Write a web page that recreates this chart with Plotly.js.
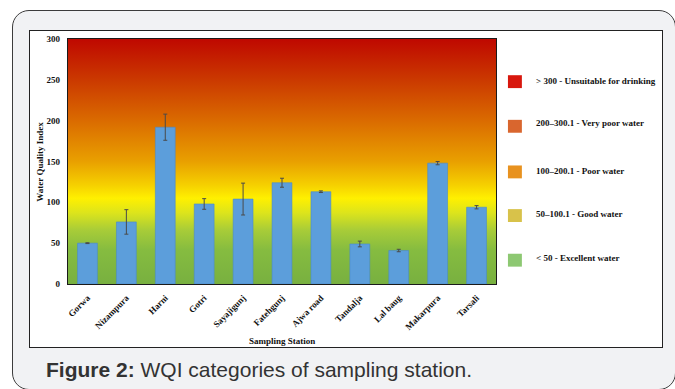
<!DOCTYPE html>
<html>
<head>
<meta charset="utf-8">
<script src="https://cdn.plot.ly/plotly-3.0.1.min.js"></script>
<style>
  html, body { margin: 0; padding: 0; width: 675px; height: 389px; overflow: hidden; background: #ffffff; }
  #frame { position: absolute; left: 12px; top: 10px; width: 664px; height: 380px; box-sizing: border-box;
           border: 1.5px solid #3c3c3c; border-radius: 17px; background: #f1f2f4; }
  #chart { position: absolute; left: 29px; top: 30px; width: 634px; height: 318px; box-sizing: border-box;
           border: 1px solid #222; background: #ffffff; }
  #caption { position: absolute; left: 46px; top: 358px; font-family: "Liberation Sans", Arial, sans-serif;
             font-size: 21px; line-height: 24px; color: #333333; white-space: nowrap; }
</style>
</head>
<body>
<div id="frame"></div>
<div id="chart"></div>
<div id="caption"><b>Figure 2:</b> WQI categories of sampling station.</div>
<script>
// ---- data ----
const stations = ['Gorwa', 'Nizampura', 'Harni', 'Gotri', 'Sayajigunj', 'Fatehgunj', 'Ajwa road', 'Tandalja', 'Lal baug', 'Makarpura', 'Tarsali'];
const wqi = [50, 76, 192, 98, 104, 124, 113, 49, 41, 148, 94];
const wqiErr = [0.5, 15, 16, 6.5, 19.5, 5.5, 1, 3.5, 1.5, 2, 2];
const yTicks = [0, 50, 100, 150, 200, 250, 300];
const categoryLabels = ['> 300 - Unsuitable for drinking', '200\u2013300.1 - Very poor water', '100\u2013200.1 - Poor water', '50\u2013100.1 - Good water', '< 50 - Excellent water'];
const categoryColors = ['#d8170d', '#d9662e', '#e8921f', '#d8c24a', '#8dc872'];

// ---- layout geometry (pixels inside the chart div) ----
const W = 634, H = 318;
const M = { l: 38, t: 8, r: 166, b: 63 };
const PW = W - M.l - M.r, PH = H - M.t - M.b;
const px = (x) => (x - M.l) / PW;           // div px -> paper x
const py = (y) => (M.t + PH - y) / PH;       // div px -> paper y

const serif = 'Liberation Serif, Times New Roman, serif';

// background gradient for the plot area
const grad = '<svg xmlns="http://www.w3.org/2000/svg" width="10" height="300" preserveAspectRatio="none">' +
  '<defs><linearGradient id="g" x1="0" y1="0" x2="0" y2="1">' +
  '<stop offset="0" stop-color="#bf0800"/>' +
  '<stop offset="0.17" stop-color="#cb3a00"/>' +
  '<stop offset="0.33" stop-color="#da6a00"/>' +
  '<stop offset="0.5" stop-color="#e9a000"/>' +
  '<stop offset="0.6" stop-color="#f6d200"/>' +
  '<stop offset="0.65" stop-color="#fff000"/>' +
  '<stop offset="0.71" stop-color="#dce41c"/>' +
  '<stop offset="0.78" stop-color="#a8cc38"/>' +
  '<stop offset="0.86" stop-color="#86bc40"/>' +
  '<stop offset="1" stop-color="#78b040"/>' +
  '</linearGradient></defs><rect width="10" height="300" fill="url(#g)"/></svg>';
const gradURI = 'data:image/svg+xml;base64,' + btoa(grad);

const trace = {
  type: 'bar',
  x: stations,
  y: wqi,
  marker: { color: '#5c9edb', line: { color: '#4a8acb', width: 0.6 } },
  error_y: { type: 'data', array: wqiErr, visible: true, color: '#4a4a4a', thickness: 1, width: 2 },
  hoverinfo: 'x+y'
};

const shapes = [];
const annotations = [];
const sqCenters = [81, 126, 172, 216, 261];
const txtCenters = [80, 123, 171, 214, 259];
categoryLabels.forEach((lab, i) => {
  const cy = sqCenters[i] - 30;
  shapes.push({ type: 'rect', xref: 'paper', yref: 'paper',
    x0: px(509 - 29), x1: px(523 - 29), y0: py(cy + 6.5), y1: py(cy - 6.5),
    fillcolor: categoryColors[i], line: { width: 0 } });
  annotations.push({ xref: 'paper', yref: 'paper', x: px(535 - 29), y: py(txtCenters[i] - 30),
    xanchor: 'left', yanchor: 'middle', showarrow: false, text: '<b>' + lab + '</b>',
    font: { family: serif, size: 9, color: '#111' } });
});
annotations.push({ xref: 'paper', yref: 'paper', x: px(38 - 29), y: 0.5, textangle: -90,
  xanchor: 'center', yanchor: 'middle', showarrow: false, text: '<b>Water Quality Index</b>',
  font: { family: serif, size: 9, color: '#111' } });
annotations.push({ xref: 'paper', yref: 'paper', x: 0.5, y: py(342 - 30),
  xanchor: 'center', yanchor: 'middle', showarrow: false, text: '<b>Sampling Station</b>',
  font: { family: serif, size: 9, color: '#111' } });

const layout = {
  width: W - 2, height: H - 2,
  margin: M,
  paper_bgcolor: 'rgba(0,0,0,0)',
  plot_bgcolor: 'rgba(0,0,0,0)',
  showlegend: false,
  bargap: 0.49,
  images: [{ source: gradURI, xref: 'paper', yref: 'paper', x: 0, y: 1, sizex: 1, sizey: 1,
    sizing: 'stretch', xanchor: 'left', yanchor: 'top', layer: 'below' }],
  xaxis: {
    type: 'category', range: [-0.5, stations.length - 0.5],
    showgrid: false, zeroline: false, showline: true, linecolor: '#1a1a1a', linewidth: 1.2, mirror: true,
    ticks: '', tickangle: -45, ticklabelstandoff: 4,
    tickfont: { family: serif, size: 9, color: '#111', weight: 'bold' }
  },
  yaxis: {
    range: [0, 300], tickvals: yTicks, ticktext: yTicks.map(String),
    showgrid: false, zeroline: false, showline: true, linecolor: '#1a1a1a', linewidth: 1.2, mirror: true,
    ticks: '', ticklabelstandoff: 5,
    tickfont: { family: serif, size: 9, color: '#111', weight: 'bold' }
  },
  shapes: shapes,
  annotations: annotations
};

Plotly.newPlot('chart', [trace], layout, { displayModeBar: false, staticPlot: true });
</script>
</body>
</html>
